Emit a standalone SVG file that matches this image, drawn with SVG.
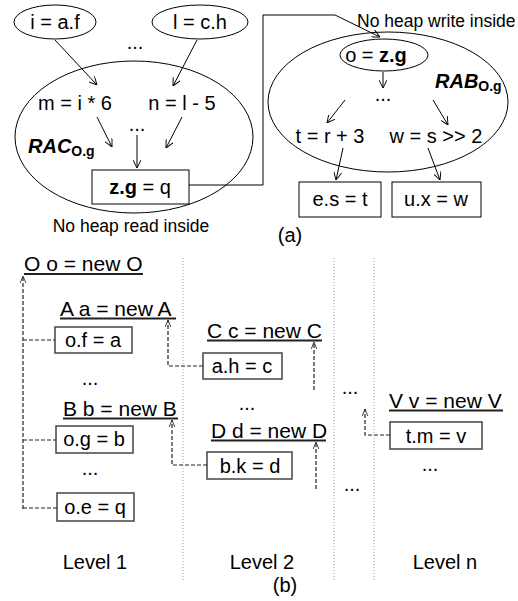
<svg xmlns="http://www.w3.org/2000/svg" width="518" height="601" viewBox="0 0 518 601">
<defs>
<marker id="ah" viewBox="0 0 10 10" refX="10" refY="5" markerWidth="8" markerHeight="8" markerUnits="userSpaceOnUse" orient="auto">
<path d="M0,0 L10,5 L0,10" fill="none" stroke="#000" stroke-width="1.2"/>
</marker>
<marker id="ahd" viewBox="0 0 10 10" refX="10" refY="5" markerWidth="7" markerHeight="7" markerUnits="userSpaceOnUse" orient="auto">
<path d="M0,1 L10,5 L0,9" fill="none" stroke="#222" stroke-width="1.2"/>
</marker>
</defs>
<style>
text{font-family:"Liberation Sans",Arial,sans-serif;font-size:20px;fill:#000}
.mid{text-anchor:middle}
.note{font-size:17.5px}
.b{font-weight:bold}
.bi{font-weight:bold;font-style:italic}
.sub{font-size:14px;font-weight:bold}
.alloc{font-size:21px}
.el{fill:none;stroke:#000;stroke-width:1}
.box{fill:#fff;stroke:#000;stroke-width:1}
.box2{fill:#fff;stroke:#444;stroke-width:1.5}
.arr{fill:none;stroke:#000;stroke-width:1;marker-end:url(#ah)}
.dash{fill:none;stroke:#222;stroke-width:1.2;stroke-dasharray:4 2}
.darr{fill:none;stroke:#222;stroke-width:1.2;stroke-dasharray:4 2;marker-end:url(#ahd)}
.sep{fill:none;stroke:#999;stroke-width:1;stroke-dasharray:1 2}
.ul{stroke:#222;stroke-width:2}
</style>

<!-- part (a) -->
<g id="rac-region">
<ellipse class="el" cx="134" cy="137" rx="119" ry="76"/>
<text x="28" y="153" class="bi">RAC<tspan class="sub" dy="3" font-style="normal">O.g</tspan></text>
</g>
<g id="rab-region">
<ellipse class="el" cx="388" cy="102" rx="120" ry="70"/>
<text x="435" y="88" class="bi">RAB<tspan class="sub" dy="3" font-style="normal">O.g</tspan></text>
</g>
<g id="n-iaf"><ellipse class="el" cx="55" cy="22" rx="41" ry="17"/><text x="55" y="29" class="mid">i = a.f</text></g>
<g id="n-lch"><ellipse class="el" cx="200" cy="22" rx="48" ry="17"/><text x="200" y="29" class="mid">l = c.h</text></g>
<g id="n-dots-top"><text x="135" y="49" class="mid">...</text></g>
<g id="n-m"><text x="75" y="110" class="mid">m = i * 6</text></g>
<g id="n-n"><text x="182" y="110" class="mid">n = l - 5</text></g>
<g id="n-dots-rac"><text x="137" y="131" class="mid">...</text></g>
<g id="n-zg"><rect class="box" x="92" y="170" width="97" height="34"/><text x="140" y="194" class="mid"><tspan class="b">z.g</tspan> = q</text></g>
<g id="n-noread"><text x="131" y="232" class="mid note">No heap read inside</text></g>
<g id="n-nowrite"><text x="357" y="27" class="note">No heap write inside</text></g>
<g id="n-ozg"><ellipse class="el" cx="384" cy="55" rx="44" ry="16"/><text x="376" y="62" class="mid">o = <tspan class="b">z.g</tspan></text></g>
<g id="n-dots-rab"><text x="383" y="101" class="mid">...</text></g>
<g id="n-t"><text x="330" y="143" class="mid">t = r + 3</text></g>
<g id="n-w"><text x="436" y="143" class="mid">w = s &gt;&gt; 2</text></g>
<g id="n-es"><rect class="box" x="299" y="182" width="82" height="35"/><text x="340" y="206" class="mid">e.s = t</text></g>
<g id="n-ux"><rect class="box" x="392" y="182" width="89" height="35"/><text x="436" y="206" class="mid">u.x = w</text></g>
<g id="n-a-label"><text x="290" y="242" class="mid">(a)</text></g>

<!-- part (b) -->
<g id="separators">
<line class="sep" x1="183" y1="258" x2="183" y2="582"/>
<line class="sep" x1="334" y1="258" x2="334" y2="581"/>
<line class="sep" x1="374" y1="258" x2="374" y2="581"/>
</g>
<g id="n-O"><text x="24" y="271" class="alloc">O o = new O</text><line class="ul" x1="24" y1="274" x2="143" y2="274"/></g>
<g id="n-A"><text x="60" y="316" class="alloc">A a = new A</text><line class="ul" x1="60" y1="318.5" x2="176" y2="318.5"/></g>
<g id="n-of"><rect class="box2" x="55" y="327" width="77" height="26"/><text x="93" y="347" class="mid">o.f = a</text></g>
<g id="n-dots1"><text x="90" y="385" class="mid">...</text></g>
<g id="n-B"><text x="63" y="416" class="alloc">B b = new B</text><line class="ul" x1="63" y1="418.5" x2="178" y2="418.5"/></g>
<g id="n-og"><rect class="box2" x="56" y="426" width="77" height="27"/><text x="94" y="446" class="mid">o.g = b</text></g>
<g id="n-dots2"><text x="90" y="475" class="mid">...</text></g>
<g id="n-oe"><rect class="box2" x="57" y="493" width="77" height="28"/><text x="95" y="514" class="mid">o.e = q</text></g>
<g id="n-level1"><text x="95" y="569" class="mid">Level 1</text></g>
<g id="n-C"><text x="207" y="338" class="alloc">C c = new C</text><line class="ul" x1="207" y1="340.5" x2="322" y2="340.5"/></g>
<g id="n-ah"><rect class="box2" x="203" y="353" width="79" height="26"/><text x="242" y="373" class="mid">a.h = c</text></g>
<g id="n-dots3"><text x="247" y="410" class="mid">...</text></g>
<g id="n-D"><text x="211" y="438" class="alloc">D d = new D</text><line class="ul" x1="211" y1="440.5" x2="326" y2="440.5"/></g>
<g id="n-bk"><rect class="box2" x="207" y="452" width="85" height="27"/><text x="250" y="473" class="mid">b.k = d</text></g>
<g id="n-level2"><text x="262" y="569" class="mid">Level 2</text></g>
<g id="n-dots4"><text x="350" y="394" class="mid">...</text></g>
<g id="n-dots5"><text x="352" y="491" class="mid">...</text></g>
<g id="n-V"><text x="389" y="408" class="alloc">V v = new V</text><line class="ul" x1="389" y1="410.5" x2="503" y2="410.5"/></g>
<g id="n-tm"><rect class="box2" x="390" y="422" width="92" height="27"/><text x="436" y="443" class="mid">t.m = v</text></g>
<g id="n-dots6"><text x="430" y="471" class="mid">...</text></g>
<g id="n-leveln"><text x="445" y="569" class="mid">Level n</text></g>
<g id="n-b-label"><text x="285" y="592" class="mid">(b)</text></g>

<g id="connectors">
<line class="arr" x1="55" y1="40" x2="97" y2="85"/>
<line class="arr" x1="197" y1="40" x2="173" y2="86"/>
<line class="arr" x1="97" y1="117" x2="112" y2="147"/>
<line class="arr" x1="182" y1="117" x2="166" y2="148"/>
<line class="arr" x1="137" y1="135" x2="137" y2="168"/>
<polyline class="arr" points="189,185 263,185 263,15 335,15 380,37"/>
<line class="arr" x1="383" y1="72" x2="383" y2="88"/>
<line class="arr" x1="345" y1="100" x2="327" y2="123"/>
<line class="arr" x1="433" y1="100" x2="448" y2="125"/>
<line class="arr" x1="343" y1="148" x2="336" y2="180"/>
<line class="arr" x1="428" y1="148" x2="440" y2="180"/>
<polyline class="darr" points="23,509 23,276"/>
<line class="dash" x1="23" y1="340" x2="55" y2="340"/>
<line class="dash" x1="23" y1="440" x2="56" y2="440"/>
<line class="dash" x1="23" y1="508" x2="57" y2="508"/>
<polyline class="darr" points="203,366 168,366 168,320"/>
<polyline class="darr" points="207,465 172,465 172,420"/>
<line class="darr" x1="314" y1="390" x2="314" y2="342"/>
<line class="darr" x1="316" y1="489" x2="316" y2="442"/>
<polyline class="darr" points="390,435 365,435 365,409"/>
</g>
</svg>
